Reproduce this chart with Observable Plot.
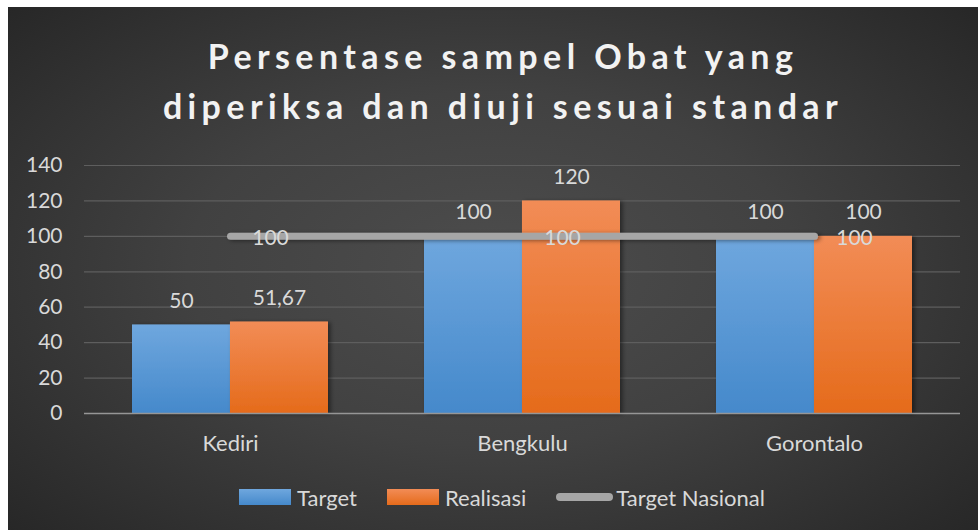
<!DOCTYPE html>
<html>
<head>
<meta charset="utf-8">
<script src="https://cdn.jsdelivr.net/npm/d3@7"></script>
<script src="https://cdn.jsdelivr.net/npm/@observablehq/plot@0.6"></script>
<style>
  html, body { margin: 0; padding: 0; background: #ffffff; }
  body { width: 978px; height: 530px; overflow: hidden; position: relative; font-family: Lato, "Open Sans", sans-serif; }
  #panel {
    position: absolute; left: 8px; top: 7px; width: 970px; height: 523px;
    background: radial-gradient(ellipse 70% 75% at 50% 50%, #4d4d4d 0%, #414141 45%, #262626 100%);
    overflow: hidden;
  }
  #title {
    position: absolute; left: 0; top: 24px; width: 990px; text-align: center;
    color: #f2f2f2; font-weight: bold; font-size: 34px; line-height: 50px; letter-spacing: 5.4px;
  }
  #chart { position: absolute; left: 0; top: 143px; }
  #legend {
    position: absolute; left: 0; top: 477px; width: 970px; height: 26px;
    display: flex; justify-content: center; align-items: center; gap: 0;
    color: #d9d9d9; font-size: 22px; padding-left: 18px; box-sizing: border-box;
  }
  .item { display: flex; align-items: center; margin: 0 15px; }
  .sw { width: 52px; height: 16px; margin-right: 6px; }
  .sw.line { height: 8px; border-radius: 4px; background: #a6a6a6; width: 57px; margin-right: 3px; }
</style>
</head>
<body>
<div id="panel">
  <div id="title">Persentase sampel Obat yang<br>diperiksa dan diuji sesuai standar</div>
  <div id="chart"></div>
  <div id="legend"></div>
</div>
<script>
const categories = ["Kediri", "Bengkulu", "Gorontalo"];
const target = [50, 100, 100];
const realisasi = [51.67, 120, 100];
const targetNasional = [100, 100, 100];
const yTicks = [0, 20, 40, 60, 80, 100, 120, 140];
const seriesNames = ["Target", "Realisasi", "Target Nasional"];

const data = categories.map((c, i) => ({cat: c, target: target[i], realisasi: realisasi[i], nasional: targetNasional[i]}));
const fmt = v => String(v).replace(".", ",");

const W = 970, mL = 76, mR = 18, mT = 15, mB = 45, H = 308;
const pInner = 0.329, pOuter = pInner / 2;
const step = (W - mL - mR) / (categories.length);
const bw = step * (1 - pInner);
const half = bw / 2;

const svg = Plot.plot({
  width: W, height: H,
  marginLeft: mL, marginRight: mR, marginTop: mT, marginBottom: mB,
  style: { background: "transparent", color: "#d9d9d9", fontFamily: "Lato, 'Open Sans', sans-serif", fontSize: "21px" },
  x: { domain: categories, paddingInner: pInner, paddingOuter: pOuter, align: 0.5, label: null, tickSize: 0, tickPadding: 22 },
  y: { domain: [0, 140], ticks: yTicks, label: null, tickSize: 0, tickPadding: 22, grid: false },
  marks: [
    Plot.gridY(yTicks.filter(d => d > 0), { stroke: "#5e5e5e", strokeOpacity: 1, strokeWidth: 1.2 }),
    Plot.barY(data, { x: "cat", y: "target", fill: "url(#gBlue)", insetRight: half }),
    Plot.barY(data, { x: "cat", y: "realisasi", fill: "url(#gOrange)", insetLeft: half }),
    Plot.ruleY([0], { stroke: "#969696", strokeWidth: 1.5 }),
    Plot.lineY(data, { x: "cat", y: "nasional", stroke: "#a6a6a6", strokeWidth: 7, strokeLinecap: "round" }),
    Plot.text(data, { x: "cat", y: "target", text: d => fmt(d.target), dx: -half / 2, dy: -24, fill: "#d9d9d9", fontSize: 21 }),
    Plot.text(data, { x: "cat", y: "realisasi", text: d => fmt(d.realisasi), dx: half / 2, dy: -24, fill: "#d9d9d9", fontSize: 21 }),
    Plot.text(data, { x: "cat", y: "nasional", text: d => fmt(d.nasional), dx: 40, dy: 2, fill: "#d9d9d9", fontSize: 21 })
  ]
});

const sel = d3.select(svg);
const defs = sel.insert("defs", ":first-child");
function grad(id, top, bottom) {
  const g = defs.append("linearGradient").attr("id", id).attr("x1", 0).attr("y1", 0).attr("x2", 0).attr("y2", 1);
  g.append("stop").attr("offset", "0%").attr("stop-color", top);
  g.append("stop").attr("offset", "100%").attr("stop-color", bottom);
}
grad("gBlue", "#6fa7de", "#4589cb");
grad("gOrange", "#f28c56", "#e56b1b");
const f = defs.append("filter").attr("id", "shadow").attr("filterUnits", "userSpaceOnUse")
  .attr("x", 0).attr("y", 0).attr("width", W).attr("height", H);
f.append("feDropShadow").attr("dx", 2.5).attr("dy", 1).attr("stdDeviation", 2).attr("flood-color", "#000").attr("flood-opacity", 0.45);
sel.selectAll("g[aria-label='bar'], g[aria-label='line']").attr("filter", "url(#shadow)");
sel.selectAll("g[aria-label='x-axis tick label']").attr("font-size", 22);
document.getElementById("chart").appendChild(svg);

const legend = document.getElementById("legend");
const swatchBg = ["linear-gradient(#6fa7de, #4589cb)", "linear-gradient(#f28c56, #e56b1b)", null];
seriesNames.forEach((name, i) => {
  const item = document.createElement("div");
  item.className = "item";
  const sw = document.createElement("div");
  sw.className = "sw" + (i === 2 ? " line" : "");
  if (swatchBg[i]) sw.style.background = swatchBg[i];
  const t = document.createElement("span");
  t.textContent = name;
  item.appendChild(sw); item.appendChild(t);
  legend.appendChild(item);
});
</script>
</body>
</html>
